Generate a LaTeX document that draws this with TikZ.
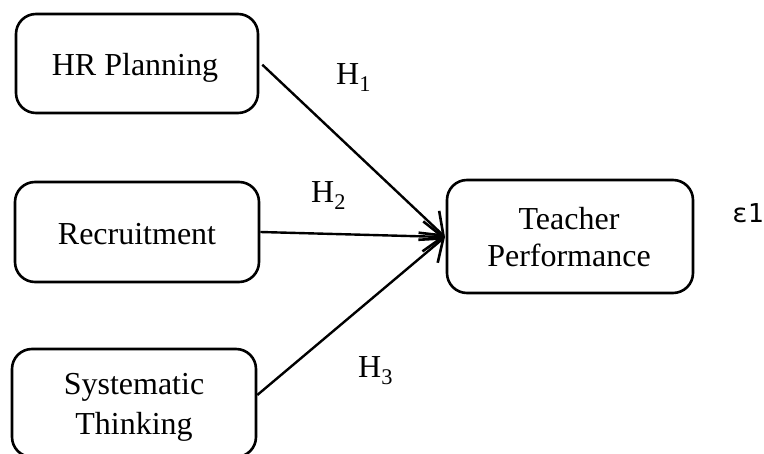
\documentclass[tikz,border=0pt]{standalone}
\usepackage{fontspec}
\setmainfont{Liberation Serif}
\newfontfamily\monofam{DejaVu Sans Mono}
\usetikzlibrary{arrows.meta,calc}
\begin{document}
\begin{tikzpicture}[x=1pt,y=1pt,
  box/.style={draw,line width=2.6pt,rounded corners=20pt,inner sep=0pt},
  txt/.style={anchor=base,inner sep=0pt,font=\fontsize{32}{40}\selectfont},
  conn/.style={line width=2.4pt,-{Straight Barb[length=20pt,width=30pt,line width=2.6pt]}},
  lab/.style={anchor=base west,inner sep=0pt,font=\fontsize{32}{40}\selectfont}]
\useasboundingbox (0,0) rectangle (764,-454);
\node[box,minimum width=242pt,minimum height=99pt] (hr) at (137,-63.5) {};
\node[box,minimum width=244pt,minimum height=100pt] (rec) at (137,-232) {};
\node[box,minimum width=244pt,minimum height=108pt] (sys) at (134,-403) {};
\node[box,minimum width=246pt,minimum height=113pt] (tp) at (570,-236.5) {};
\node[txt] (hrt) at (135,-76) {HR Planning};
\node[txt] (rect) at (137,-245) {Recruitment};
\node[txt] (syst1) at (134,-395) {Systematic};
\node[txt] (syst2) at (134,-435) {Thinking};
\node[txt] (tpt1) at (569,-230) {Teacher};
\node[txt] (tpt2) at (569,-267) {Performance};
\coordinate (end) at (445,-237);
\draw[conn] ($(hr.north east)+(3,-52)$) -- (end);
\draw[conn] (rec.east) -- (end);
\draw[conn] ([yshift=8pt]sys.east) -- (end);
\node[lab] (h1) at (336,-85) {H\textsubscript{1}};
\node[lab] (h2) at (311,-203) {H\textsubscript{2}};
\node[lab] (h3) at (358,-378) {H\textsubscript{3}};
\node[anchor=base west,inner sep=0pt,font=\monofam\fontsize{26}{30}\selectfont] (eps) at (732,-223) {ε1};
\end{tikzpicture}
\end{document}
